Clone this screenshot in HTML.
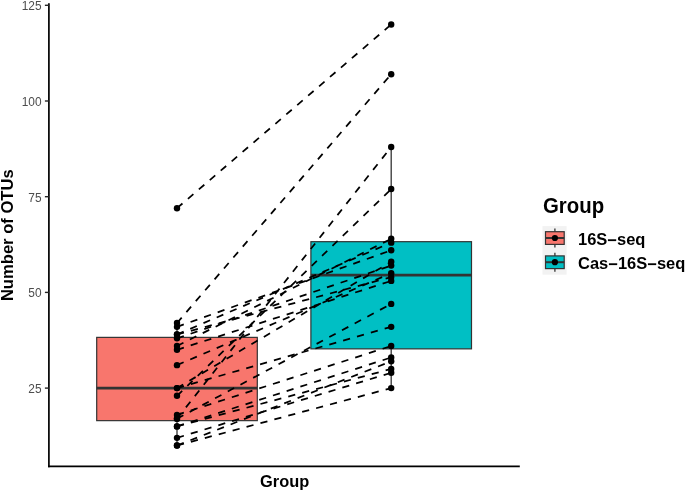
<!DOCTYPE html>
<html><head><meta charset="utf-8"><style>
html,body{margin:0;padding:0;background:#fff;}
body{width:685px;height:491px;overflow:hidden;font-family:"Liberation Sans",sans-serif;}
svg{display:block;will-change:transform;}
</style></head><body>
<svg width="685" height="491" viewBox="0 0 685 491" font-family="Liberation Sans, sans-serif">
<rect width="685" height="491" fill="#fff"/>
<line x1="177.0" y1="323.02" x2="177.0" y2="337.38" stroke="#333333" stroke-width="1.3"/>
<line x1="177.0" y1="420.64" x2="177.0" y2="445.52" stroke="#333333" stroke-width="1.3"/>
<rect x="96.70" y="337.38" width="160.60" height="83.26" fill="#F8766D" stroke="#333333" stroke-width="1.2"/>
<line x1="96.70" y1="388.10" x2="257.30" y2="388.10" stroke="#333333" stroke-width="2.6"/>
<line x1="391.2" y1="146.94" x2="391.2" y2="241.68" stroke="#333333" stroke-width="1.3"/>
<line x1="391.2" y1="348.86" x2="391.2" y2="388.10" stroke="#333333" stroke-width="1.3"/>
<rect x="310.90" y="241.68" width="160.60" height="107.18" fill="#00BFC4" stroke="#333333" stroke-width="1.2"/>
<line x1="310.90" y1="275.17" x2="471.50" y2="275.17" stroke="#333333" stroke-width="2.6"/>
<line x1="177.0" y1="208.18" x2="391.2" y2="24.44" stroke="#000" stroke-width="1.75" stroke-dasharray="7.2 7.2"/>
<line x1="177.0" y1="323.02" x2="391.2" y2="74.20" stroke="#000" stroke-width="1.75" stroke-dasharray="7.2 7.2"/>
<line x1="177.0" y1="418.72" x2="391.2" y2="146.94" stroke="#000" stroke-width="1.75" stroke-dasharray="7.2 7.2"/>
<line x1="177.0" y1="395.76" x2="391.2" y2="189.04" stroke="#000" stroke-width="1.75" stroke-dasharray="7.2 7.2"/>
<line x1="177.0" y1="418.72" x2="391.2" y2="303.88" stroke="#000" stroke-width="1.75" stroke-dasharray="7.2 7.2"/>
<line x1="177.0" y1="414.90" x2="391.2" y2="345.99" stroke="#000" stroke-width="1.75" stroke-dasharray="7.2 7.2"/>
<line x1="177.0" y1="426.38" x2="391.2" y2="357.48" stroke="#000" stroke-width="1.75" stroke-dasharray="7.2 7.2"/>
<line x1="177.0" y1="426.38" x2="391.2" y2="368.96" stroke="#000" stroke-width="1.75" stroke-dasharray="7.2 7.2"/>
<line x1="177.0" y1="445.52" x2="391.2" y2="361.30" stroke="#000" stroke-width="1.75" stroke-dasharray="7.2 7.2"/>
<line x1="177.0" y1="437.86" x2="391.2" y2="372.79" stroke="#000" stroke-width="1.75" stroke-dasharray="7.2 7.2"/>
<line x1="177.0" y1="445.52" x2="391.2" y2="388.10" stroke="#000" stroke-width="1.75" stroke-dasharray="7.2 7.2"/>
<line x1="177.0" y1="388.10" x2="391.2" y2="326.85" stroke="#000" stroke-width="1.75" stroke-dasharray="7.2 7.2"/>
<line x1="177.0" y1="326.85" x2="391.2" y2="250.29" stroke="#000" stroke-width="1.75" stroke-dasharray="7.2 7.2"/>
<line x1="177.0" y1="365.13" x2="391.2" y2="273.26" stroke="#000" stroke-width="1.75" stroke-dasharray="7.2 7.2"/>
<line x1="177.0" y1="349.82" x2="391.2" y2="280.92" stroke="#000" stroke-width="1.75" stroke-dasharray="7.2 7.2"/>
<line x1="177.0" y1="345.99" x2="391.2" y2="238.81" stroke="#000" stroke-width="1.75" stroke-dasharray="7.2 7.2"/>
<line x1="177.0" y1="334.51" x2="391.2" y2="242.64" stroke="#000" stroke-width="1.75" stroke-dasharray="7.2 7.2"/>
<line x1="177.0" y1="334.51" x2="391.2" y2="277.09" stroke="#000" stroke-width="1.75" stroke-dasharray="7.2 7.2"/>
<line x1="177.0" y1="338.34" x2="391.2" y2="265.60" stroke="#000" stroke-width="1.75" stroke-dasharray="7.2 7.2"/>
<line x1="177.0" y1="388.10" x2="391.2" y2="261.78" stroke="#000" stroke-width="1.75" stroke-dasharray="7.2 7.2"/>
<circle cx="177.0" cy="208.18" r="3.2" fill="#000"/>
<circle cx="391.2" cy="24.44" r="3.2" fill="#000"/>
<circle cx="177.0" cy="323.02" r="3.2" fill="#000"/>
<circle cx="391.2" cy="74.20" r="3.2" fill="#000"/>
<circle cx="177.0" cy="418.72" r="3.2" fill="#000"/>
<circle cx="391.2" cy="146.94" r="3.2" fill="#000"/>
<circle cx="177.0" cy="395.76" r="3.2" fill="#000"/>
<circle cx="391.2" cy="189.04" r="3.2" fill="#000"/>
<circle cx="177.0" cy="418.72" r="3.2" fill="#000"/>
<circle cx="391.2" cy="303.88" r="3.2" fill="#000"/>
<circle cx="177.0" cy="414.90" r="3.2" fill="#000"/>
<circle cx="391.2" cy="345.99" r="3.2" fill="#000"/>
<circle cx="177.0" cy="426.38" r="3.2" fill="#000"/>
<circle cx="391.2" cy="357.48" r="3.2" fill="#000"/>
<circle cx="177.0" cy="426.38" r="3.2" fill="#000"/>
<circle cx="391.2" cy="368.96" r="3.2" fill="#000"/>
<circle cx="177.0" cy="445.52" r="3.2" fill="#000"/>
<circle cx="391.2" cy="361.30" r="3.2" fill="#000"/>
<circle cx="177.0" cy="437.86" r="3.2" fill="#000"/>
<circle cx="391.2" cy="372.79" r="3.2" fill="#000"/>
<circle cx="177.0" cy="445.52" r="3.2" fill="#000"/>
<circle cx="391.2" cy="388.10" r="3.2" fill="#000"/>
<circle cx="177.0" cy="388.10" r="3.2" fill="#000"/>
<circle cx="391.2" cy="326.85" r="3.2" fill="#000"/>
<circle cx="177.0" cy="326.85" r="3.2" fill="#000"/>
<circle cx="391.2" cy="250.29" r="3.2" fill="#000"/>
<circle cx="177.0" cy="365.13" r="3.2" fill="#000"/>
<circle cx="391.2" cy="273.26" r="3.2" fill="#000"/>
<circle cx="177.0" cy="349.82" r="3.2" fill="#000"/>
<circle cx="391.2" cy="280.92" r="3.2" fill="#000"/>
<circle cx="177.0" cy="345.99" r="3.2" fill="#000"/>
<circle cx="391.2" cy="238.81" r="3.2" fill="#000"/>
<circle cx="177.0" cy="334.51" r="3.2" fill="#000"/>
<circle cx="391.2" cy="242.64" r="3.2" fill="#000"/>
<circle cx="177.0" cy="334.51" r="3.2" fill="#000"/>
<circle cx="391.2" cy="277.09" r="3.2" fill="#000"/>
<circle cx="177.0" cy="338.34" r="3.2" fill="#000"/>
<circle cx="391.2" cy="265.60" r="3.2" fill="#000"/>
<circle cx="177.0" cy="388.10" r="3.2" fill="#000"/>
<circle cx="391.2" cy="261.78" r="3.2" fill="#000"/>
<line x1="48.9" y1="3.2" x2="48.9" y2="467.25" stroke="#000" stroke-width="1.7"/>
<line x1="48.05" y1="466.4" x2="519.8" y2="466.4" stroke="#000" stroke-width="1.7"/>
<line x1="44.9" y1="388.10" x2="48.9" y2="388.10" stroke="#262626" stroke-width="1.4"/>
<text transform="translate(41.5 393.06) scale(1 1.14)" text-anchor="end" font-size="11.9" fill="#4D4D4D">25</text>
<line x1="44.9" y1="292.40" x2="48.9" y2="292.40" stroke="#262626" stroke-width="1.4"/>
<text transform="translate(41.5 297.36) scale(1 1.14)" text-anchor="end" font-size="11.9" fill="#4D4D4D">50</text>
<line x1="44.9" y1="196.70" x2="48.9" y2="196.70" stroke="#262626" stroke-width="1.4"/>
<text transform="translate(41.5 201.66) scale(1 1.14)" text-anchor="end" font-size="11.9" fill="#4D4D4D">75</text>
<line x1="44.9" y1="101.00" x2="48.9" y2="101.00" stroke="#262626" stroke-width="1.4"/>
<text transform="translate(41.5 105.96) scale(1 1.14)" text-anchor="end" font-size="11.9" fill="#4D4D4D">100</text>
<line x1="44.9" y1="5.30" x2="48.9" y2="5.30" stroke="#262626" stroke-width="1.4"/>
<text transform="translate(41.5 10.26) scale(1 1.14)" text-anchor="end" font-size="11.9" fill="#4D4D4D">125</text>
<text transform="translate(284.6 486.6) scale(1 1.05)" text-anchor="middle" font-size="16.4" font-weight="bold" fill="#000">Group</text>
<text transform="translate(12.95 235.2) rotate(-90)" text-anchor="middle" font-size="16.6" font-weight="bold" fill="#000">Number of OTUs</text>
<text transform="translate(543.0 213.3) scale(1 1.1)" font-size="20.4" font-weight="bold" fill="#000">Group</text>
<rect x="542.5" y="226.1" width="24.1" height="48.6" fill="#F2F2F2"/>
<line x1="554.9" y1="228.60" x2="554.9" y2="247.60" stroke="#333" stroke-width="1.3"/>
<rect x="545.5" y="231.70" width="18.7" height="12.7" fill="#F8766D" stroke="#333" stroke-width="1.2"/>
<line x1="545.5" y1="238.00" x2="564.2" y2="238.00" stroke="#333" stroke-width="2.0"/>
<circle cx="554.9" cy="238.00" r="3.1" fill="#000"/>
<line x1="554.9" y1="252.80" x2="554.9" y2="271.80" stroke="#333" stroke-width="1.3"/>
<rect x="545.5" y="255.90" width="18.7" height="12.7" fill="#00BFC4" stroke="#333" stroke-width="1.2"/>
<line x1="545.5" y1="262.20" x2="564.2" y2="262.20" stroke="#333" stroke-width="2.0"/>
<circle cx="554.9" cy="262.20" r="3.1" fill="#000"/>
<text transform="translate(578.0 244.6) scale(1 1.02)" font-size="16.5" font-weight="bold" fill="#000">16S<tspan dy="1">&#8722;</tspan><tspan dy="-1">seq</tspan></text>
<text transform="translate(578.0 268.7) scale(1 1.02)" font-size="16.5" font-weight="bold" fill="#000">Cas<tspan dy="1">&#8722;</tspan><tspan dy="-1">16S</tspan><tspan dy="1">&#8722;</tspan><tspan dy="-1">seq</tspan></text>
</svg>
</body></html>
